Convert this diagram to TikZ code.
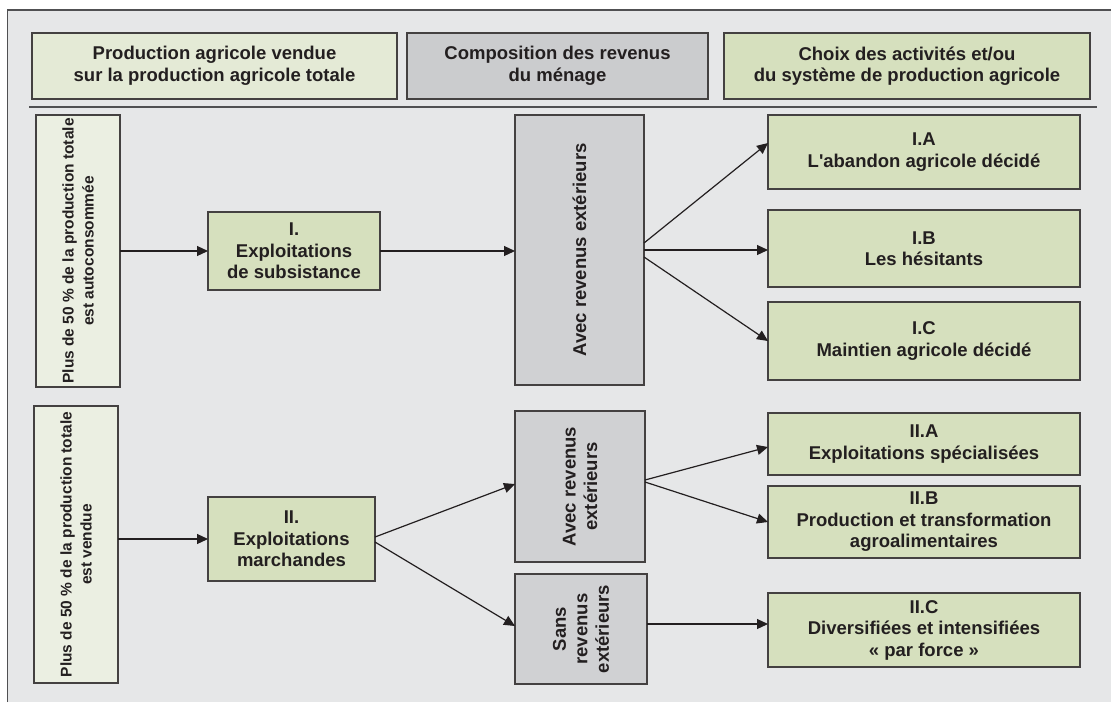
\documentclass[tikz,border=0pt]{standalone}
\usepackage{fontspec}
\setmainfont{Liberation Sans}
\usetikzlibrary{arrows.meta}

\definecolor{bgc}{HTML}{E6E7E8}
\definecolor{framec}{HTML}{505052}
\definecolor{inkc}{HTML}{231F20}
\definecolor{paleg}{HTML}{E4EAD6}
\definecolor{lightg}{HTML}{EBEFE2}
\definecolor{greenc}{HTML}{D6E0BE}
\definecolor{grayc}{HTML}{D0D1D3}
\definecolor{grayh}{HTML}{CBCCCE}

\tikzset{
  box/.style={draw=inkc!85, line width=1.2pt, inner sep=0pt, outer sep=0pt,
    align=center, text=inkc, font=\bfseries\fontsize{18.5}{21.5}\selectfont},
  crit/.style={box, fill=lightg, rotate=90, font=\bfseries\fontsize{15.5}{20}\selectfont},
  kind/.style={box, fill=greenc},
  rev/.style={box, fill=grayc},
  link/.style={draw=inkc, line width=1.2pt, -{Triangle[length=11pt,width=10pt]}}
}

\begin{document}
\begin{tikzpicture}[x=1pt, y=-1pt]
\useasboundingbox (0,0) rectangle (1111,702);
\fill[white] (0,0) rectangle (1111,702);
\fill[bgc] (7.5,10) rectangle (1111,702);
\draw[framec, line width=1.5pt] (7.5,702) -- (7.5,10) -- (1111,10);
% column heads
\node[box, fill=paleg, minimum width=365pt, minimum height=66pt] (hd0) at (214.5,66) {Production agricole vendue\\sur la production agricole totale};
\node[box, fill=grayh, minimum width=301pt, minimum height=66pt] (hd1) at (557.5,66) {Composition des revenus\\du ménage};
\node[box, fill=greenc, minimum width=366pt, minimum height=66pt] (hd2) at (907,66) {Choix des activités et/ou\\du système de production agricole};
\draw[framec, line width=1.5pt] (29,107) -- (1097,107);
% criteria
\node[crit, minimum width=272pt, minimum height=84pt] (lf0) at (78,251) {Plus de 50~\% de la production totale\\est autoconsommée};
\node[crit, minimum width=277pt, minimum height=84pt] (lf1) at (76,544.5) {Plus de 50~\% de la production totale\\est vendue};
% farm types
\node[kind, minimum width=172pt, minimum height=78pt] (ex0) at (294,251) {I.\\Exploitations\\de subsistance};
\node[kind, minimum width=167pt, minimum height=84pt] (ex1) at (291.5,539) {II.\\Exploitations\\marchandes};
% outside income
\node[rev, rotate=90, minimum width=270pt, minimum height=129pt] (rv0) at (579.5,250) {Avec revenus extérieurs};
\node[rev, rotate=90, minimum width=151pt, minimum height=130pt] (rv1) at (580,486.5) {Avec revenus\\extérieurs};
\node[rev, rotate=90, minimum width=110pt, minimum height=132pt] (rv2) at (581,629) {Sans\\revenus\\extérieurs};
% choices
\node[kind, minimum width=312pt, minimum height=74pt] (ch0) at (924,152) {I.A\\L\textquotesingle abandon agricole décidé};
\node[kind, minimum width=312pt, minimum height=77pt] (ch1) at (924,248.5) {I.B\\Les hésitants};
\node[kind, minimum width=312pt, minimum height=78pt] (ch2) at (924,341) {I.C\\Maintien agricole décidé};
\node[kind, minimum width=312pt, minimum height=62pt] (ch3) at (924,444) {II.A\\Exploitations spécialisées};
\node[kind, minimum width=312pt, minimum height=72pt] (ch4) at (924,522) {II.B\\Production et transformation\\agroalimentaires};
\node[kind, minimum width=312pt, minimum height=74pt] (ch5) at (924,630) {II.C\\Diversifiées et intensifiées\\«~par force~»};
% links
\draw[link] (lf0.south) -- (ex0.west);
\draw[link] (lf1.south |- ex1.west) -- (ex1.west);
\draw[link] (ex0.east) -- (ex0.east -| rv0.north);
\draw[link] ([yshift=7pt]rv0.south) -- ([yshift=9pt]ch0.west);
\draw[link] (rv0.south) -- (rv0.south -| ch1.west);
\draw[link] ([yshift=-7pt]rv0.south) -- (ch2.west);
\draw[link] ([yshift=2pt]ex1.east) -- ([yshift=2.5pt]rv1.north);
\draw[link] ([yshift=-3pt]ex1.east) -- ([yshift=3pt]rv2.north);
\draw[link] ([yshift=6.5pt]rv1.south) -- ([yshift=-3pt]ch3.west);
\draw[link] ([yshift=4.5pt]rv1.south) -- (ch4.west);
\draw[link] ([yshift=5pt]rv2.south) -- ([yshift=5pt]rv2.south -| ch5.west);
\end{tikzpicture}
\end{document}
